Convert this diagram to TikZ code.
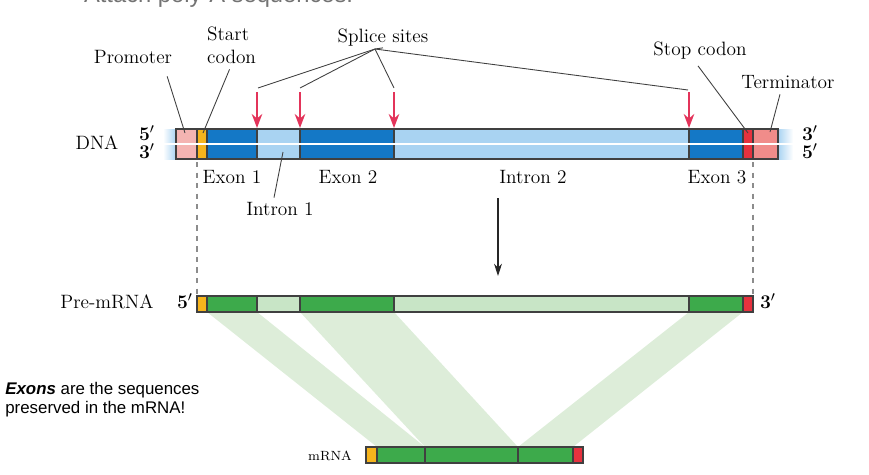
\documentclass[tikz,border=0pt]{standalone}
\usepackage{fontspec}
\usepackage{tikz}
\usetikzlibrary{arrows.meta,positioning}
\newfontfamily\arialfont{Liberation Sans}
\definecolor{promotpink}{HTML}{F4B4B2}
\definecolor{startyellow}{HTML}{F6B41C}
\definecolor{exonblue}{HTML}{1478C6}
\definecolor{intronblue}{HTML}{A9D3F2}
\definecolor{stopred}{HTML}{E6323E}
\definecolor{termpink}{HTML}{F08C8A}
\definecolor{exongreen}{HTML}{3DAA4B}
\definecolor{introngreen}{HTML}{C8E5C6}
\definecolor{bandgreen}{HTML}{DDEDD9}
\definecolor{splicered}{HTML}{E3345A}

\begin{document}
\begin{tikzpicture}[x=0.02cm, y=-0.02cm,
    lbl/.style={font=\fontsize{11}{13}\selectfont, inner sep=1pt},
    prime/.style={font=\fontsize{11}{13}\selectfont\bfseries, inner sep=0pt},
    seg/.style={draw=black!75, line width=0.6pt},
    leader/.style={draw=black!75, line width=0.5pt},
    splice/.style={draw=splicered, line width=1.1pt, -{Stealth[length=8pt,width=6pt]}},
    guide/.style={draw=black!45, dashed, line width=0.6pt}]
    \useasboundingbox (0,0) rectangle (869,474);
    \clip (0,0) rectangle (869,474);

    % cut-off line from the slide above
    \node[anchor=base west, text=black!55, font=\arialfont\fontsize{13.5}{14}\selectfont] (polya) at (63,2) {• Attach poly-A sequences.};

    % DNA, two strands
    \shade[left color=white, right color=intronblue] (163,129) rectangle (176,159);
    \shade[left color=intronblue, right color=white] (778,129) rectangle (793,159);
    \filldraw[seg, fill=promotpink] (176,129) rectangle (197,159);
    \filldraw[seg, fill=startyellow] (197,129) rectangle (207,159);
    \filldraw[seg, fill=exonblue] (207,129) rectangle (257,159);
    \filldraw[seg, fill=intronblue] (257,129) rectangle (300,159);
    \filldraw[seg, fill=exonblue] (300,129) rectangle (394,159);
    \filldraw[seg, fill=intronblue] (394,129) rectangle (689,159);
    \filldraw[seg, fill=exonblue] (689,129) rectangle (743,159);
    \filldraw[seg, fill=stopred] (743,129) rectangle (753,159);
    \filldraw[seg, fill=termpink] (753,129) rectangle (778,159);
    \draw[white, line width=1.2pt] (163,144) -- (793,144);

    \node[lbl, anchor=base] (dna) at (97,149) {DNA};
    \node[prime, anchor=base] (dna5l) at (147,140) {5$'$};
    \node[prime, anchor=base] (dna3l) at (147,158) {3$'$};
    \node[prime, anchor=base] (dna3r) at (810,140) {3$'$};
    \node[prime, anchor=base] (dna5r) at (810,158) {5$'$};

    % labels above the DNA
    \node[lbl, anchor=base] (promoter) at (133,63) {Promoter};
    \node[lbl, anchor=base west, align=left] (startcodon) at (205,63) {Start\\codon};
    \node[lbl, anchor=base] (splicesites) at (383,42) {Splice sites};
    \node[lbl, anchor=base] (stopcodon) at (700,55) {Stop codon};
    \node[lbl, anchor=base] (terminator) at (788,88) {Terminator};

    \coordinate (promtip) at (185,133);
    \coordinate (starttip) at (203,133);
    \coordinate (stoptip) at (748,133);
    \coordinate (termtip) at (770,132);
    \draw[leader] ([shift={(-7,11)}]promoter.south east) -- (promtip);
    \draw[leader] ([shift={(-2,4)}]startcodon.south) -- (starttip);
    \draw[leader] ([shift={(-2,5)}]stopcodon.south) -- (stoptip);
    \draw[leader] ([shift={(-8,4)}]terminator.south) -- (termtip);

    % splice sites
    \coordinate (hub) at (375,49);
    \coordinate (ss1) at (257,92);
    \coordinate (ss2) at (300,92);
    \coordinate (ss3) at (394,92);
    \coordinate (ss4) at (689,92);
    \draw[leader] (hub) -- ([shift={(1,-4)}]ss1);
    \draw[leader] (hub) -- ([shift={(0,-4)}]ss2);
    \draw[leader] (hub) -- ([shift={(0,-4)}]ss3);
    \draw[leader] (hub) -- ([shift={(-1,-2)}]ss4);
    \draw[leader] (splicesites.south) -- (hub);
    \draw[splice] (ss1) -- (257,128);
    \draw[splice] (ss2) -- (300,128);
    \draw[splice] (ss3) -- (394,128);
    \draw[splice] (ss4) -- (689,128);

    % labels below the DNA
    \node[lbl, anchor=base] (exon1) at (232,183) {Exon 1};
    \node[lbl, anchor=base] (exon2) at (348,183) {Exon 2};
    \node[lbl, anchor=base] (intron2) at (533,183) {Intron 2};
    \node[lbl, anchor=base] (exon3) at (717,183) {Exon 3};
    \node[lbl, anchor=base] (intron1) at (280,215) {Intron 1};
    \coordinate (introntip) at (283,152);
    \draw[leader] ([shift={(-6,-2)}]intron1.north) -- (introntip);

    \draw[guide] (197,162) -- (197,294);
    \draw[guide] (753,162) -- (753,294);

    % transcription
    \coordinate (txtop) at (498,198);
    \coordinate (txbot) at (498,276);
    \draw[black!85, line width=0.6pt, -{Stealth[length=7pt,width=4.5pt]}] (txtop) -- (txbot);

    % exons carried over to the mRNA
    \fill[bandgreen] (207,312) -- (257,312) -- (425,447) -- (377,447) -- cycle;
    \fill[bandgreen] (300,312) -- (394,312) -- (518,447) -- (425,447) -- cycle;
    \fill[bandgreen] (689,312) -- (743,312) -- (573,447) -- (518,447) -- cycle;

    % Pre-mRNA
    \filldraw[seg, fill=startyellow] (197,296) rectangle (207,312);
    \filldraw[seg, fill=exongreen] (207,296) rectangle (257,312);
    \filldraw[seg, fill=introngreen] (257,296) rectangle (300,312);
    \filldraw[seg, fill=exongreen] (300,296) rectangle (394,312);
    \filldraw[seg, fill=introngreen] (394,296) rectangle (689,312);
    \filldraw[seg, fill=exongreen] (689,296) rectangle (743,312);
    \filldraw[seg, fill=stopred] (743,296) rectangle (753,312);
    \node[lbl, anchor=base] (premrna) at (107,308) {Pre-mRNA};
    \node[prime, anchor=base] (pre5) at (185,308) {5$'$};
    \node[prime, anchor=base] (pre3) at (768,308) {3$'$};

    % mRNA
    \filldraw[seg, fill=startyellow] (366,447) rectangle (377,463);
    \filldraw[seg, fill=exongreen] (377,447) rectangle (425,463);
    \filldraw[seg, fill=exongreen] (425,447) rectangle (518,463);
    \filldraw[seg, fill=exongreen] (518,447) rectangle (573,463);
    \filldraw[seg, fill=stopred] (573,447) rectangle (583,463);
    \node[anchor=base, font=\fontsize{7.6}{9}\selectfont, inner sep=1pt] (mrna) at (330,460) {mRNA};

    \node[anchor=base west, align=left, inner sep=0pt, font=\arialfont\fontsize{9.6}{10.8}\selectfont] (note) at (5,413) {\textbf{\textit{Exons}} are the sequences\\preserved in the mRNA!};
\end{tikzpicture}
\end{document}
